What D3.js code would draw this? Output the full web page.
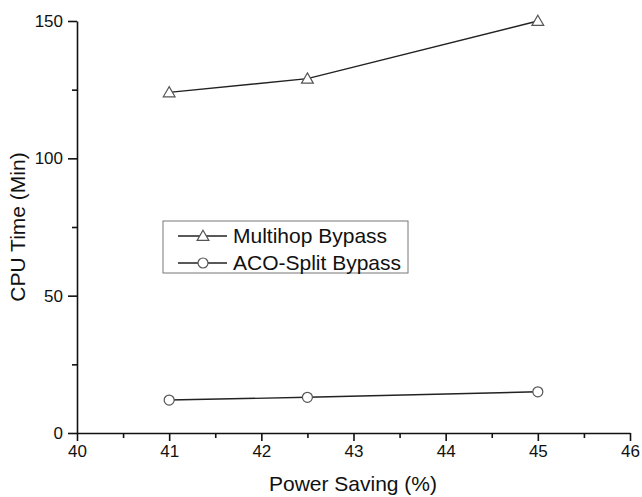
<!DOCTYPE html>
<html>
<head>
<meta charset="utf-8">
<script src="https://cdn.jsdelivr.net/npm/d3@7"></script>
<style>
  body { margin: 0; background: #fff; }
  svg text { font-family: "Liberation Sans", Arial, sans-serif; fill: #111; }
</style>
</head>
<body>
<div id="chart"></div>
<script>
// data
const powerSaving = [41, 42.5, 45];
const multihopBypass = [124, 129, 150];
const acoSplitBypass = [12, 13, 15];
const xTicks = [40, 41, 42, 43, 44, 45, 46];
const yTicks = [0, 50, 100, 150];
const seriesNames = ['Multihop Bypass', 'ACO-Split Bypass'];

const margin = { top: 21, right: 12, bottom: 64, left: 77 };
const width = 642 - margin.left - margin.right;
const height = 497 - margin.top - margin.bottom;

const svg = d3.select('#chart')
  .append('svg')
  .attr('width', width + margin.left + margin.right)
  .attr('height', height + margin.top + margin.bottom)
  .append('g')
  .attr('transform', `translate(${margin.left}, ${margin.top})`);

const x = d3.scaleLinear().domain([40, 46]).range([0, 553]);
const y = d3.scaleLinear().domain([0, 150]).range([height, 0]);

// minor ticks first
svg.append('g')
  .attr('transform', `translate(0, ${height})`)
  .call(d3.axisBottom(x).tickValues(d3.range(40.5, 46, 1)).tickSize(5).tickFormat(''))
  .call(g => g.select('.domain').remove());
svg.append('g')
  .call(d3.axisLeft(y).tickValues([25, 75, 125]).tickSize(5).tickFormat(''))
  .call(g => g.select('.domain').remove());

// main axes
const xAxis = svg.append('g')
  .attr('transform', `translate(0, ${height})`)
  .call(d3.axisBottom(x).tickValues(xTicks).tickFormat(d3.format('d'))
    .tickSize(8).tickSizeOuter(0).tickPadding(4));
const yAxis = svg.append('g')
  .call(d3.axisLeft(y).tickValues(yTicks).tickFormat(d3.format('d'))
    .tickSize(9).tickSizeOuter(0).tickPadding(5));

[xAxis, yAxis].forEach(g => {
  g.attr('font-size', 17);
  g.selectAll('path, line').attr('stroke', '#111').attr('stroke-width', 1.6);
  g.selectAll('text').style('font-size', '17px');
});
svg.selectAll('.tick line').attr('stroke', '#111').attr('stroke-width', 1.6);

svg.append('text')
  .attr('x', 276)
  .attr('y', height + 58)
  .attr('text-anchor', 'middle')
  .style('font-size', '21px')
  .text('Power Saving (%)');

svg.append('text')
  .attr('transform', `translate(${-52}, ${y(75)}) rotate(-90)`)
  .attr('text-anchor', 'middle')
  .style('font-size', '21px')
  .text('CPU Time (Min)');

const line = d3.line().x(d => x(d[0])).y(d => y(d[1]));
const triangle = d3.symbol().type(d3.symbolTriangle).size(60);

function drawSeries(values, shape) {
  const pts = powerSaving.map((p, i) => [p, values[i]]);
  svg.append('path')
    .datum(pts)
    .attr('d', line)
    .attr('fill', 'none')
    .attr('stroke', '#222')
    .attr('stroke-width', 1.4);
  const marks = svg.selectAll(null).data(pts).enter();
  if (shape === 'tri') {
    marks.append('path')
      .attr('d', triangle)
      .attr('transform', d => `translate(${x(d[0])}, ${y(d[1]) + 1})`)
      .attr('fill', '#fff')
      .attr('stroke', '#555')
      .attr('stroke-width', 1.2);
  } else {
    marks.append('circle')
      .attr('cx', d => x(d[0]))
      .attr('cy', d => y(d[1]))
      .attr('r', 5)
      .attr('fill', '#fff')
      .attr('stroke', '#555')
      .attr('stroke-width', 1.2);
  }
}

drawSeries(multihopBypass, 'tri');
drawSeries(acoSplitBypass, 'circ');

// legend
const legend = svg.append('g').attr('transform', 'translate(86, 200)');
legend.append('rect')
  .attr('width', 245)
  .attr('height', 52)
  .attr('fill', '#fff')
  .attr('stroke', '#777')
  .attr('stroke-width', 1);
seriesNames.forEach((name, i) => {
  const g = legend.append('g').attr('transform', `translate(0, ${15 + i * 27})`);
  g.append('line')
    .attr('x1', 15).attr('x2', 64)
    .attr('stroke', '#222').attr('stroke-width', 1.4);
  if (i === 0) {
    g.append('path')
      .attr('d', triangle)
      .attr('transform', 'translate(40, 1)')
      .attr('fill', '#fff').attr('stroke', '#555').attr('stroke-width', 1.2);
  } else {
    g.append('circle')
      .attr('cx', 40).attr('r', 5)
      .attr('fill', '#fff').attr('stroke', '#555').attr('stroke-width', 1.2);
  }
  g.append('text')
    .attr('x', 70)
    .attr('dy', '0.35em')
    .style('font-size', '21px')
    .text(name);
});
</script>
</body>
</html>
